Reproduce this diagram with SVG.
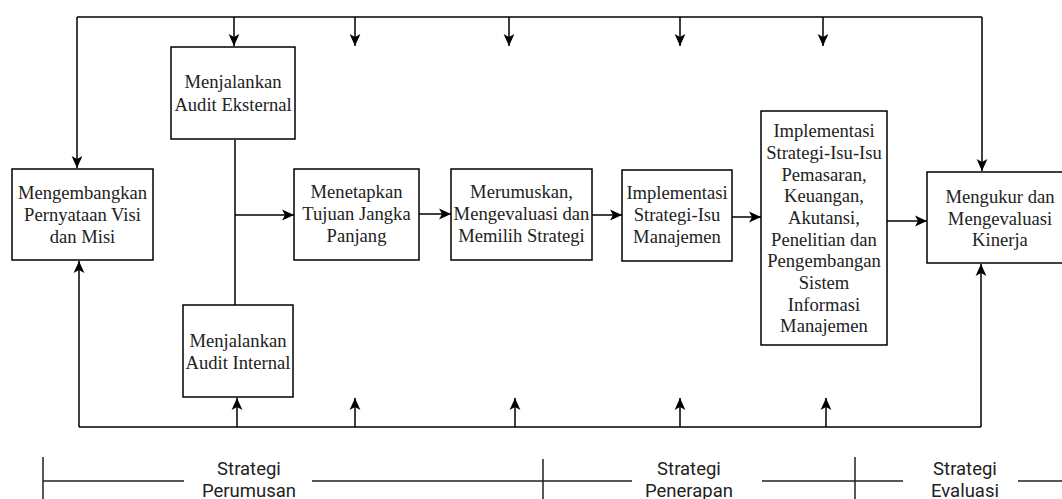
<svg xmlns="http://www.w3.org/2000/svg" width="1062" height="499" viewBox="0 0 1062 499">
<style>
.box{fill:#fff;stroke:#000;stroke-width:1.5}
.t{font-family:"Liberation Serif","Times New Roman",serif;font-size:18.6px;fill:#222;text-anchor:middle}
.s{font-family:Roboto,"Liberation Sans",Arial,sans-serif;font-size:18.5px;fill:#222;text-anchor:middle}
.c{fill:none;stroke:#000;stroke-width:1.5}
.a{fill:none;stroke:#000;stroke-width:1.5;marker-end:url(#ah)}
.tl{fill:none;stroke:#222;stroke-width:1.5}
</style>
<defs>
<marker id="ah" viewBox="0 0 10 10" refX="10" refY="5" markerWidth="12" markerHeight="12" markerUnits="userSpaceOnUse" orient="auto">
<path d="M0,0.5 L10,5 L0,9.5 L2.5,5 z" fill="#000"/>
</marker>
</defs>
<rect width="1062" height="499" fill="#fff"/>
<g id="connectors">
<path class="c" d="M77,17 H982"/>
<path class="a" d="M77,17 V168"/>
<path class="a" d="M234,17 V46"/>
<path class="a" d="M355,17 V46"/>
<path class="a" d="M509,17 V46"/>
<path class="a" d="M680,17 V46"/>
<path class="a" d="M823,17 V46"/>
<path class="a" d="M982,17 V171"/>
<path class="c" d="M79,427 H981"/>
<path class="a" d="M79,427 V261"/>
<path class="a" d="M237,427 V398"/>
<path class="a" d="M355,427 V398"/>
<path class="a" d="M515,427 V398"/>
<path class="a" d="M680,427 V398"/>
<path class="a" d="M826,427 V398"/>
<path class="a" d="M981,427 V264"/>
<path class="c" d="M235,140 V305"/>
<path class="a" d="M235,215 H294"/>
<path class="a" d="M419,214 H451"/>
<path class="a" d="M592,215 H622"/>
<path class="a" d="M732,217 H761"/>
<path class="a" d="M887,221 H927"/>
</g>
<g id="n-visi">
<rect class="box" x="12" y="169" width="141" height="91"/>
<text class="t" x="82.5" y="199">Mengembangkan</text>
<text class="t" x="82.5" y="221">Pernyataan Visi</text>
<text class="t" x="82.5" y="243">dan Misi</text>
</g>
<g id="n-eksternal">
<rect class="box" x="171" y="47" width="124" height="92"/>
<text class="t" x="233" y="88">Menjalankan</text>
<text class="t" x="233" y="111">Audit Eksternal</text>
</g>
<g id="n-internal">
<rect class="box" x="183" y="305" width="110" height="92"/>
<text class="t" x="238" y="347">Menjalankan</text>
<text class="t" x="238" y="369">Audit Internal</text>
</g>
<g id="n-tujuan">
<rect class="box" x="294" y="169" width="125" height="91"/>
<text class="t" x="356.5" y="198">Menetapkan</text>
<text class="t" x="356.5" y="220">Tujuan Jangka</text>
<text class="t" x="356.5" y="242">Panjang</text>
</g>
<g id="n-rumus">
<rect class="box" x="451" y="169" width="141" height="91"/>
<text class="t" x="521.5" y="198">Merumuskan,</text>
<text class="t" x="521.5" y="220">Mengevaluasi dan</text>
<text class="t" x="521.5" y="242">Memilih Strategi</text>
</g>
<g id="n-impl-manajemen">
<rect class="box" x="622" y="170" width="110" height="91"/>
<text class="t" x="677" y="199">Implementasi</text>
<text class="t" x="677" y="221">Strategi-Isu</text>
<text class="t" x="677" y="243">Manajemen</text>
</g>
<g id="n-impl-fungsional">
<rect class="box" x="761" y="111" width="126" height="234"/>
<text class="t" x="824" y="137">Implementasi</text>
<text class="t" x="824" y="159">Strategi-Isu-Isu</text>
<text class="t" x="824" y="181">Pemasaran,</text>
<text class="t" x="824" y="202">Keuangan,</text>
<text class="t" x="824" y="224">Akutansi,</text>
<text class="t" x="824" y="246">Penelitian dan</text>
<text class="t" x="824" y="267">Pengembangan</text>
<text class="t" x="824" y="289">Sistem</text>
<text class="t" x="824" y="311">Informasi</text>
<text class="t" x="824" y="332">Manajemen</text>
</g>
<g id="n-kinerja">
<rect class="box" x="927" y="172" width="146" height="91"/>
<text class="t" x="1000" y="203">Mengukur dan</text>
<text class="t" x="1000" y="225">Mengevaluasi</text>
<text class="t" x="1000" y="246">Kinerja</text>
</g>
<g id="timeline">
<path class="tl" d="M43,457 V499 M43,481 H184 M312,481 H632 M543,459 V499 M762,481 H903 M855,457 V499 M1018,481 H1062"/>
<text class="s" x="249" y="475">Strategi</text>
<text class="s" x="249" y="497">Perumusan</text>
<text class="s" x="689" y="475">Strategi</text>
<text class="s" x="689" y="497">Penerapan</text>
<text class="s" x="965" y="475">Strategi</text>
<text class="s" x="965" y="497">Evaluasi</text>
</g>
</svg>
